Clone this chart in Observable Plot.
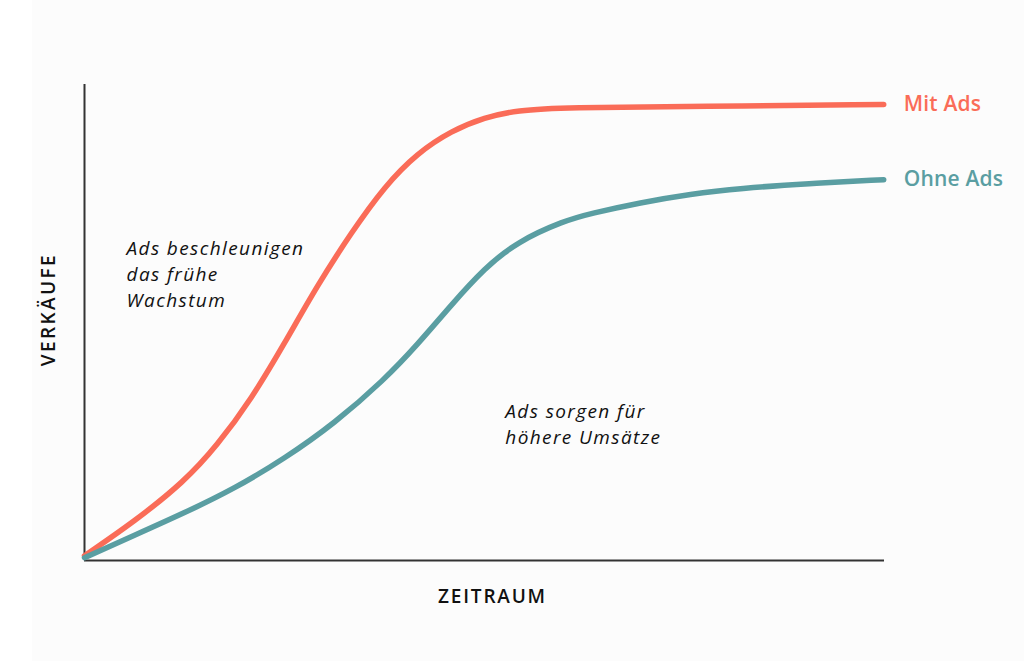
<!DOCTYPE html>
<html>
<head>
<meta charset="utf-8">
<script src="https://cdn.jsdelivr.net/npm/d3@7"></script>
<script src="https://cdn.jsdelivr.net/npm/@observablehq/plot@0.6"></script>
<style>
  html, body { margin: 0; padding: 0; background: #ffffff; }
  #chart svg { display: block; background: linear-gradient(to right, #ffffff 32px, #fcfcfc 32px); }
</style>
</head>
<body>
<div id="chart"></div>
<script>
// Time (0–100) and sales (0–100)
const mitAdsX   = [0, 6.25, 12.5, 16.6, 20.9, 25, 29.1, 33.4, 37.5, 41.6, 45.9, 50, 54.1, 60, 77, 99.9];
const mitAdsY   = [1.0, 8.2, 16.6, 24.2, 34.0, 45.6, 57.8, 69.0, 78.6, 85.6, 90.3, 93.1, 94.6, 95.2, 95.4, 95.8];
const ohneAdsX  = [0, 6.25, 12.5, 18.75, 25, 31.25, 37.5, 41.6, 45.9, 50, 54.1, 60, 63.25, 69.5, 75.75, 82, 90.4, 99.9];
const ohneAdsY  = [0.6, 5.3, 10.0, 15.1, 21.4, 28.8, 38.0, 45.3, 53.8, 61.4, 67.0, 71.4, 72.9, 75.2, 77.0, 78.2, 79.2, 80.0];
const seriesNames  = ["Mit Ads", "Ohne Ads"];
const seriesColors = ["#fa6c58", "#5a9ea2"];
const annotationTexts = ["Ads beschleunigen\ndas frühe\nWachstum", "Ads sorgen für\nhöhere Umsätze"];
const annotationX = [5.25, 52.6];
const annotationY = [68.1, 33.8];
const xTitle = "ZEITRAUM";
const yTitle = "VERKÄUFE";

const rows = [
  ...mitAdsX.map((x, i) => ({series: seriesNames[0], x, y: mitAdsY[i]})),
  ...ohneAdsX.map((x, i) => ({series: seriesNames[1], x, y: ohneAdsY[i]}))
];
const notes = annotationTexts.map((t, i) => ({text: t, x: annotationX[i], y: annotationY[i]}));

const chart = Plot.plot({
  width: 1024,
  height: 661,
  marginLeft: 84,
  marginRight: 140,
  marginTop: 84,
  marginBottom: 101,
  style: {fontFamily: "'Open Sans', sans-serif"},
  x: {domain: [0, 100], axis: null},
  y: {domain: [0, 100], axis: null},
  color: {domain: seriesNames, range: seriesColors},
  marks: [
    Plot.ruleX([0], {y1: 0, y2: 100, stroke: "#333333", strokeWidth: 2}),
    Plot.ruleY([0], {x1: 0, x2: 100, stroke: "#333333", strokeWidth: 2}),
    Plot.line(rows, {x: "x", y: "y", z: "series", stroke: "series", strokeWidth: 5.5, curve: "basis", strokeLinecap: "round"}),
    Plot.text(rows, Plot.selectLast({x: "x", y: "y", z: "series", fill: "series", text: "series", textAnchor: "start", dx: 20, fontSize: 21, fontWeight: 600})),
    Plot.text(notes, {x: "x", y: "y", text: "text", textAnchor: "start", lineAnchor: "top", lineHeight: 1.38, fontSize: 19, fontStyle: "italic", fill: "#111111"}),
    Plot.text([xTitle], {frameAnchor: "bottom", dx: 8, dy: 42, fontSize: 19, fontWeight: 600, fill: "#111111"}),
    Plot.text([yTitle], {x: 0, y: 52.7, dx: -36, rotate: -90, fontSize: 19, fontWeight: 600, fill: "#111111"})
  ]
});
// letter spacing per text mark (series labels, notes, x title, y title)
const spacing = ["0.2px", "1.4px", "1.8px", "2.4px"];
d3.select(chart).selectAll('g[aria-label="text"]').each(function(_, i) {
  d3.select(this).style("letter-spacing", spacing[i]);
});
document.getElementById("chart").append(chart);
</script>
</body>
</html>
